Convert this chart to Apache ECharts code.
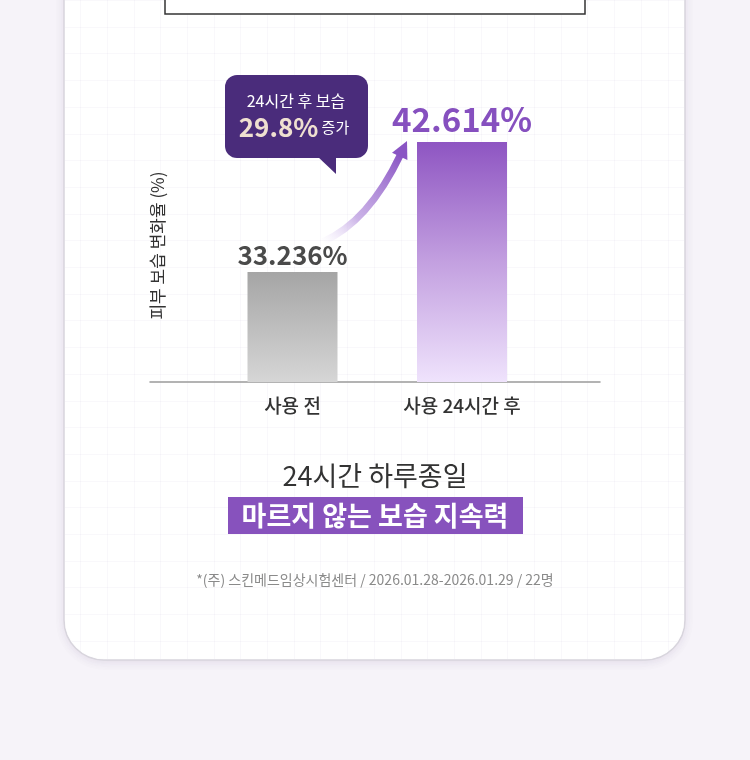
<!DOCTYPE html>
<html>
<head>
<meta charset="utf-8">
<script src="https://cdn.jsdelivr.net/npm/echarts@6/dist/echarts.min.js"></script>
<style>
html,body{margin:0;padding:0;background:#f6f3f9;}
#c{width:750px;height:760px;}
</style>
</head>
<body>
<div id="c"></div>
<script>
// ---- data ----
const categories = ['사용 전', '사용 24시간 후'];
const values = [33.236, 42.614];
const yAxisTitle = '피부 보습 변화율 (%)';
const calloutLine1 = '24시간 후 보습';
const calloutValue = '29.8%';
const calloutSuffix = '증가';
const headline = '24시간 하루종일';
const highlight = '마르지 않는 보습 지속력';
const footnote = '*(주) 스킨메드임상시험센터 / 2026.01.28-2026.01.29 / 22명';

const KR = '"Noto Sans CJK KR","Noto Sans",sans-serif';

// faint grid-paper pattern
function makePattern() {
  const step = 26.7, n = 10, size = Math.round(step * n);
  const cv = document.createElement('canvas');
  cv.width = size; cv.height = size;
  const ctx = cv.getContext('2d');
  ctx.fillStyle = '#ffffff';
  ctx.fillRect(0, 0, size, size);
  ctx.strokeStyle = 'rgba(120,100,160,0.045)';
  ctx.lineWidth = 1;
  for (let i = 0; i < n; i++) {
    const p = Math.round(i * step) + 0.5;
    ctx.beginPath(); ctx.moveTo(p, 0); ctx.lineTo(p, size); ctx.stroke();
    ctx.beginPath(); ctx.moveTo(0, p); ctx.lineTo(size, p); ctx.stroke();
  }
  return cv;
}

const chart = echarts.init(document.getElementById('c'), null, {renderer: 'canvas'});

const grayGrad = new echarts.graphic.LinearGradient(0, 0, 0, 1, [
  {offset: 0, color: '#a5a5a5'}, {offset: 1, color: '#d6d6d6'}
]);
const purpleGrad = new echarts.graphic.LinearGradient(0, 0, 0, 1, [
  {offset: 0, color: '#8e55c2'}, {offset: 0.5, color: '#c3a0e0'}, {offset: 1, color: '#efe3fc'}
]);

const option = {
  backgroundColor: '#f6f3f9',
  animation: false,
  grid: [
    {left: 207.75, width: 339, top: 109, height: 273},
    {left: 150, width: 450, top: 109, height: 273}
  ],
  xAxis: [
    {
      gridIndex: 0, type: 'category', data: categories,
      axisLine: {show: false}, axisTick: {show: false},
      axisLabel: {margin: 14, fontSize: 19, color: '#333', fontWeight: 500, fontFamily: KR}
    },
    {
      gridIndex: 1, type: 'category', data: [''],
      axisLine: {show: true, lineStyle: {color: '#9a9a9a', width: 1.5}},
      axisTick: {show: false}, axisLabel: {show: false}
    }
  ],
  yAxis: [
    {
      gridIndex: 0, type: 'value', min: 25.3, max: 45,
      axisLine: {show: false}, axisTick: {show: false}, axisLabel: {show: false},
      splitLine: {show: false},
      name: yAxisTitle, nameLocation: 'middle', nameRotate: 90, nameGap: 42,
      nameTextStyle: {fontSize: 17, color: '#333', fontFamily: KR}
    },
    {gridIndex: 1, type: 'value', show: false}
  ],
  series: [{
    type: 'bar', xAxisIndex: 0, yAxisIndex: 0, barWidth: 90,
    data: [
      {value: values[0], itemStyle: {color: grayGrad},
       label: {show: true, position: 'top', distance: 4, formatter: '{c}%', fontSize: 26,
               fontWeight: 'bold', color: '#4a4a4a', fontFamily: KR}},
      {value: values[1], itemStyle: {color: purpleGrad},
       label: {show: true, position: 'top', distance: 6, formatter: '{c}%', fontSize: 33,
               fontWeight: 'bold', color: '#8650bf', fontFamily: KR}}
    ]
  }]
};
chart.setOption(option);

// annotations anchored to the data positions
const p1 = chart.convertToPixel({gridIndex: 0}, [0, values[0]]);
const p2 = chart.convertToPixel({gridIndex: 0}, [1, values[1]]);
const S = [p1[0] + 30, p1[1] - 30];
const tip = [p2[0] - 55, p2[1] - 1];
const C = [p1[0] + 76, p1[1] - 50];
let dx = tip[0] - C[0], dy = tip[1] - C[1];
const len = Math.sqrt(dx * dx + dy * dy); dx /= len; dy /= len;
const headL = 17, headW = 8.5;
const base = [tip[0] - headL * dx, tip[1] - headL * dy];
const px = -dy, py = dx;
const E = [base[0] + 2 * dx, base[1] + 2 * dy];

chart.setOption({
  graphic: [
    // card
    {type: 'rect', z: -20, shape: {x: 64, y: -60, width: 621, height: 720, r: 40},
     style: {fill: '#ffffff', stroke: '#d8d5dd', lineWidth: 1.5,
             shadowBlur: 10, shadowColor: 'rgba(80,60,110,0.10)', shadowOffsetY: 2}},
    {type: 'rect', z: -19, shape: {x: 65, y: -60, width: 619, height: 719, r: 39},
     style: {fill: {image: makePattern(), repeat: 'repeat'}}},
    // top box (cut off)
    {type: 'rect', z: -5, shape: {x: 165, y: -30, width: 420, height: 44},
     style: {fill: '#ffffff', stroke: '#333333', lineWidth: 1.5}},
    // arrow
    {type: 'bezierCurve', z: 10,
     shape: {x1: S[0], y1: S[1], x2: E[0], y2: E[1], cpx1: C[0], cpy1: C[1]},
     style: {fill: null, lineWidth: 7, lineCap: 'butt',
             stroke: {type: 'linear', x: S[0], y: S[1], x2: E[0], y2: E[1], global: true,
                      colorStops: [{offset: 0, color: 'rgba(225,210,245,0)'},
                                   {offset: 0.35, color: 'rgba(190,160,225,0.8)'},
                                   {offset: 1, color: '#8a55c4'}]}}},
    {type: 'polygon', z: 10,
     shape: {points: [tip, [base[0] + px * headW, base[1] + py * headW], [base[0] - px * headW, base[1] - py * headW]]},
     style: {fill: '#8a55c4'}},
    // callout bubble
    {type: 'rect', z: 10, shape: {x: 225, y: 75, width: 143, height: 83, r: 12},
     style: {fill: '#4a2c7b'}},
    {type: 'polygon', z: 10, shape: {points: [[317, 156], [336, 174], [336, 156]]},
     style: {fill: '#4a2c7b'}},
    {type: 'text', z: 11, x: 296, y: 101,
     style: {text: calloutLine1, fill: '#ffffff', fontSize: 16, fontFamily: KR,
             align: 'center', verticalAlign: 'middle'}},
    {type: 'text', z: 11, x: 294, y: 127,
     style: {text: '{a|' + calloutValue + '} {b|' + calloutSuffix + '}', align: 'center', verticalAlign: 'middle',
             rich: {a: {fontSize: 26, fontWeight: 'bold', fill: '#efe0d0', fontFamily: KR},
                    b: {fontSize: 15, fill: '#ffffff', fontFamily: KR}}}},
    // bottom headline
    {type: 'text', z: 5, x: 375, y: 476,
     style: {text: headline, fill: '#333333', fontSize: 27, fontFamily: KR,
             align: 'center', verticalAlign: 'middle'}},
    {type: 'rect', z: 5, shape: {x: 228, y: 497, width: 295, height: 37},
     style: {fill: '#8752bd'}},
    {type: 'text', z: 6, x: 375, y: 516,
     style: {text: highlight, fill: '#ffffff', fontSize: 27, fontWeight: 'bold', fontFamily: KR,
             align: 'center', verticalAlign: 'middle'}},
    {type: 'text', z: 5, x: 375, y: 580,
     style: {text: footnote, fill: '#8a8a8a', fontSize: 14, fontFamily: KR,
             align: 'center', verticalAlign: 'middle'}}
  ]
});
</script>
</body>
</html>
